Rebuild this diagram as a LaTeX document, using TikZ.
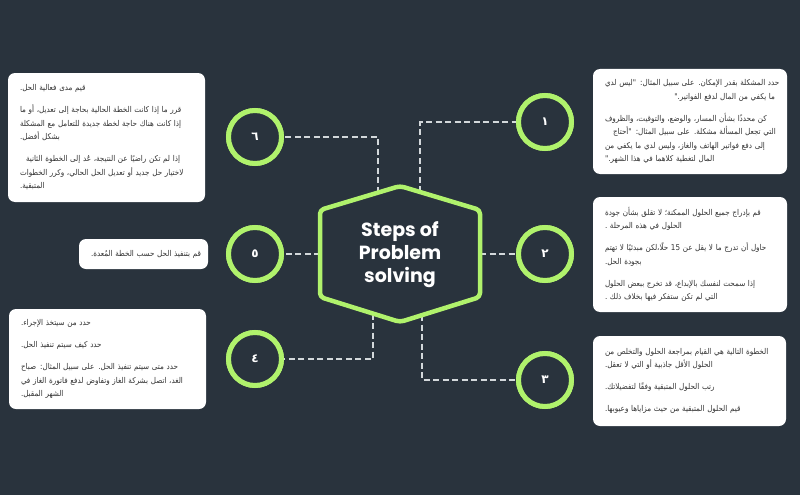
\documentclass[tikz,border=0pt]{standalone}
\usepackage{fontspec}
\TeXXeTstate=1
\newfontfamily\arabicfont[Script=Arabic,FakeStretch=0.9]{DejaVu Sans}
\newfontfamily\digitfont[Script=Arabic]{DejaVu Sans}
\newfontfamily\titlefont{Poppins}
\definecolor{bgc}{HTML}{29333D}
\definecolor{lime}{HTML}{B0F26C}
\definecolor{txt}{HTML}{333333}
\definecolor{dashc}{HTML}{D3D8DB}
\newcommand\arl[1]{\mbox{\beginR #1\endR}}
\newcommand\arr[1]{\hspace*{\fill}\mbox{\beginR #1\endR}}
\tikzset{
  stepcircle/.style={circle, draw=lime, line width=5pt, fill=bgc, minimum size=53pt, inner sep=0pt,
    text=white, font=\digitfont\bfseries\fontsize{12}{12}\selectfont},
  infobox/.style={fill=white, rounded corners=7pt, inner xsep=12pt, inner ysep=0pt, align=left,
    text=txt, font=\arabicfont\fontsize{8}{13.5}\selectfont},
  link/.style={draw=dashc, line width=1.3pt, dash pattern=on 6pt off 3.5pt},
  hexline/.style={draw=lime, line width=4.5pt, fill=bgc, rounded corners=4pt, line join=round},
}
\begin{document}
\begin{tikzpicture}[x=1pt,y=-1pt]
\fill[bgc] (0,0) rectangle (800,495);
\useasboundingbox (0,0) rectangle (800,495);

% hexagon vertices and link anchors
\coordinate (hxt) at (400,186);
\coordinate (hxtr) at (480,210);
\coordinate (hxbr) at (480,297);
\coordinate (hxb) at (400,322);
\coordinate (hxbl) at (320,297);
\coordinate (hxtl) at (320,210);
\coordinate (h1) at (420,192);
\coordinate (h6) at (378,192.6);
\coordinate (h2) at (480,254);
\coordinate (h5) at (320,254);
\coordinate (h3) at (422,315);
\coordinate (h4) at (373,313.6);

% circles
\node[stepcircle] (c1) at (545,122) {١};
\node[stepcircle] (c2) at (545,254) {٢};
\node[stepcircle] (c3) at (545,380) {٣};
\node[stepcircle] (c4) at (255,359) {٤};
\node[stepcircle] (c5) at (255,254) {٥};
\node[stepcircle] (c6) at (255,137) {٦};

% connectors
\draw[link] (h1) |- (c1.west);
\draw[link] (h2) -- (c2.west);
\draw[link] (h3) |- (c3.west);
\draw[link] (h4) |- (c4.east);
\draw[link] (h5) -- (c5.east);
\draw[link] (h6) |- (c6.east);

% redraw circles on top of links
\node[stepcircle] at (c1) {١};
\node[stepcircle] at (c2) {٢};
\node[stepcircle] at (c3) {٣};
\node[stepcircle] at (c4) {٤};
\node[stepcircle] at (c5) {٥};
\node[stepcircle] at (c6) {٦};

% hexagon
\path[hexline] (hxt) -- (hxtr) -- (hxbr) -- (hxb) -- (hxbl) -- (hxtl) -- cycle;
\node[text=white, align=center, font=\titlefont\bfseries\fontsize{19}{23}\selectfont] (hub) at (400,255)
  {Steps of\\Problem\\solving};

% boxes
\node[infobox, text width=170pt, minimum height=105pt] (b1) at (690,121.5) {%
\arl{حدد المشكلة بقدر الإمكان. على سبيل المثال: "ليس لدي}\\
\arr{ما يكفي من المال لدفع الفواتير."}\\[8.5pt]
\arl{كن محددًا بشأن المسار، والوضع، والتوقيت، والظروف}\\
\hspace*{8pt}\arl{التي تجعل المسألة مشكلة. على سبيل المثال: "أحتاج}\\
\arl{إلى دفع فواتير الهاتف والغاز، وليس لدي ما يكفي من}\\
\arl{المال لتغطية كلاهما في هذا الشهر."}};

\node[infobox, text width=170pt, minimum height=115pt] (b2) at (690,254.5) {%
\arl{قم بإدراج جميع الحلول الممكنة؛ لا تقلق بشأن جودة}\\
\arl{الحلول في هذه المرحلة .}\\[8.5pt]
\arl{حاول أن تدرج ما لا يقل عن \beginL 15\endL{} حلًا،لكن مبدئيًا لا تهتم}\\
\arl{بجودة الحل.}\\[8.5pt]
\arl{إذا سمحت لنفسك بالإبداع، قد تخرج ببعض الحلول}\\
\arl{التي لم تكن ستفكر فيها بخلاف ذلك .}};

\node[infobox, text width=169pt, minimum height=90pt] (b3) at (689.5,381) {%
\arl{الخطوة التالية هي القيام بمراجعة الحلول والتخلص من}\\
\arl{الحلول الأقل جاذبية أو التي لا تعقل.}\\[8.5pt]
\arl{رتب الحلول المتبقية وفقًا لتفضيلاتك.}\\[8.5pt]
\arl{قيم الحلول المتبقية من حيث مزاياها وعيوبها.}};

\node[infobox, text width=173pt, minimum height=129pt] (b6) at (106.5,137.5) {%
\arl{قيم مدى فعالية الحل.}\\[8.5pt]
\arl{قرر ما إذا كانت الخطة الحالية بحاجة إلى تعديل، أو ما}\\
\arl{إذا كانت هناك حاجة لخطة جديدة للتعامل مع المشكلة}\\
\arl{بشكل أفضل.}\\[8.5pt]
\hspace*{6pt}\arl{إذا لم تكن راضيًا عن النتيجة، عُد إلى الخطوة الثانية}\\
\arl{لاختيار حل جديد أو تعديل الحل الحالي، وكرر الخطوات}\\
\arl{المتبقية.}};

\node[infobox, text width=105pt, minimum height=30pt] (b5) at (143.5,254) {%
\arl{قم بتنفيذ الحل حسب الخطة المُعدة.}};

\node[infobox, text width=173pt, minimum height=100pt] (b4) at (107.5,359) {%
\arl{حدد من سيتخذ الإجراء.}\\[8.5pt]
\arl{حدد كيف سيتم تنفيذ الحل.}\\[8.5pt]
\arl{حدد متى سيتم تنفيذ الحل. على سبيل المثال: صباح}\\
\arl{الغد، اتصل بشركة الغاز وتفاوض لدفع فاتورة الغاز في}\\
\arl{الشهر المقبل.}};
\end{tikzpicture}
\end{document}
